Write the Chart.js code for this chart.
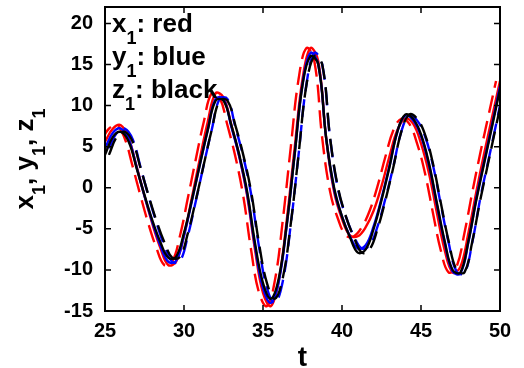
<!DOCTYPE html>
<html>
<head>
<meta charset="utf-8">
<script src="https://cdn.jsdelivr.net/npm/chart.js@4.4.1/dist/chart.umd.min.js"></script>
<style>
  html, body { margin: 0; padding: 0; background: #fff; overflow: hidden; }
  #wrap { width: 524px; height: 368px; }
</style>
</head>
<body>
<div id="wrap"><canvas id="chart_xyz"></canvas></div>
<script>
// time samples
const tValues = [25, 25.5, 26, 26.5, 27, 27.5, 28, 28.5, 29, 29.5,
  30, 30.5, 31, 31.5, 32, 32.5, 33, 33.5, 34, 34.5,
  35, 35.5, 36, 36.5, 37, 37.5, 38, 38.5, 39, 39.5,
  40, 40.5, 41, 41.5, 42, 42.5, 43, 43.5, 44, 44.5,
  45, 45.5, 46, 46.5, 47, 47.5, 48, 48.5, 49, 49.5, 50];

// x1 (red)
const x1Values = [5.6, 7.2, 7.6, 6.0, 2.6, -1.0, -4.4, -7.3, -9.4, -9.0,
  -5.8, -1.2, 3.5, 8.0, 11.5, 11.0, 7.6, 3.8, -1.0, -7.6,
  -12.8, -14.4, -11.3, -4.0, 4.8, 13.2, 17.0, 15.4, 6.0, -0.5,
  -3.8, -5.8, -5.9, -4.8, -2.8, 0.2, 3.8, 7.0, 8.4, 7.8,
  5.4, 1.8, -3.0, -7.6, -10.3, -9.6, -5.5, -0.5, 4.2, 8.6, 13.0];

// y1 (blue)
const y1Values = [4.8, 6.7, 7.2, 5.9, 2.5, -1.0, -4.2, -7.0, -9.0, -8.9,
  -5.8, -1.6, 2.8, 7.0, 10.8, 10.8, 7.4, 3.8, -0.8, -7.2,
  -12.2, -14.0, -11.4, -4.6, 4.0, 12.6, 16.4, 15.0, 6.0, -0.2,
  -3.5, -5.9, -7.4, -7.0, -4.7, -1.3, 2.6, 6.8, 8.8, 8.2,
  6.3, 2.8, -2.0, -6.7, -10.2, -10.4, -6.6, -1.3, 3.2, 7.7, 12.4];

// z1 (black)
const z1Values = [4.0, 6.2, 6.8, 5.6, 2.4, -0.9, -4.0, -6.6, -8.5, -8.4,
  -5.5, -1.5, 2.8, 7.0, 10.6, 10.6, 7.6, 4.0, -0.5, -6.8,
  -11.6, -13.5, -11.0, -4.5, 4.0, 12.5, 16.0, 15.0, 6.0, 0.0,
  -3.5, -6.0, -7.9, -7.5, -5.0, -1.5, 2.5, 6.8, 8.9, 8.4,
  6.5, 3.0, -1.8, -6.5, -10.0, -10.3, -6.5, -1.5, 3.0, 7.5, 12.0];

// time shift of the dashed (second) copies
const lagRed = -0.25;
const lagBlue = 0.25;
const lagBlack = 0.25;

const xTicks = [25, 30, 35, 40, 45, 50];
const yTicks = [-15, -10, -5, 0, 5, 10, 15, 20];

const legendRows = [["x", "1", ": red"], ["y", "1", ": blue"], ["z", "1", ": black"]];
const yTitleParts = [["x", "1", ", "], ["y", "1", ", "], ["z", "1", ""]];
const xTitle = "t";

const FONT = "'Liberation Sans', Arial, Helvetica, sans-serif";

function pts(vals, lag) {
  return vals.map((v, i) => ({ x: tValues[i] + lag, y: v }));
}

function lineSet(vals, color, lag, dashed, order) {
  return {
    data: pts(vals, lag),
    borderColor: color,
    borderWidth: 2.4,
    borderDash: dashed ? [18, 8] : [],
    pointRadius: 0,
    tension: 0.4,
    fill: false,
    order: order,
  };
}

// draw main letter + subscript + rest, returns end x
function drawSubText(ctx, parts, x, y, big, small) {
  let cx = x;
  parts.forEach((p) => {
    ctx.font = "bold " + big + "px " + FONT;
    ctx.fillText(p[0], cx, y);
    cx += ctx.measureText(p[0]).width;
    ctx.font = "bold " + small + "px " + FONT;
    ctx.fillText(p[1], cx, y + 12);
    cx += ctx.measureText(p[1]).width;
    ctx.font = "bold " + big + "px " + FONT;
    ctx.fillText(p[2], cx, y);
    cx += ctx.measureText(p[2]).width;
  });
  return cx;
}

function measureSub(ctx, parts, big, small) {
  let w = 0;
  parts.forEach((p) => {
    ctx.font = "bold " + big + "px " + FONT;
    w += ctx.measureText(p[0]).width + ctx.measureText(p[2]).width;
    ctx.font = "bold " + small + "px " + FONT;
    w += ctx.measureText(p[1]).width;
  });
  return w;
}

const framePlugin = {
  id: "framePlugin",
  afterDatasetsDraw(chart) {
    const ctx = chart.ctx;
    const a = chart.chartArea;
    const xs = chart.scales.x;
    const ys = chart.scales.y;
    ctx.save();
    ctx.strokeStyle = "#000";
    ctx.lineWidth = 2;
    ctx.strokeRect(a.left, a.top, a.right - a.left, a.bottom - a.top);
    // inward ticks on all sides
    ctx.lineWidth = 1.5;
    ctx.beginPath();
    xTicks.forEach((t) => {
      const px = xs.getPixelForValue(t);
      ctx.moveTo(px, a.bottom); ctx.lineTo(px, a.bottom - 6);
      ctx.moveTo(px, a.top); ctx.lineTo(px, a.top + 6);
    });
    yTicks.forEach((t) => {
      const py = ys.getPixelForValue(t);
      ctx.moveTo(a.left, py); ctx.lineTo(a.left + 6, py);
      ctx.moveTo(a.right, py); ctx.lineTo(a.right - 6, py);
    });
    ctx.stroke();

    // legend text inside the plot
    ctx.fillStyle = "#000";
    ctx.textBaseline = "alphabetic";
    ctx.textAlign = "left";
    legendRows.forEach((row, i) => {
      drawSubText(ctx, [row], 112, 32 + i * 33, 26, 18);
    });

    // y title, rotated
    ctx.save();
    ctx.translate(33, (a.top + a.bottom) / 2);
    ctx.rotate(-Math.PI / 2);
    const w = measureSub(ctx, yTitleParts, 26, 18);
    drawSubText(ctx, yTitleParts, -w / 2, 0, 26, 18);
    ctx.restore();

    // x title
    ctx.font = "bold 28px " + FONT;
    ctx.textAlign = "center";
    ctx.fillText(xTitle, (a.left + a.right) / 2, 366);
    ctx.restore();
  },
};

const ctxXYZ = document.getElementById("chart_xyz").getContext("2d");

const myChartXYZ = new Chart(ctxXYZ, {
  type: "line",
  data: {
    datasets: [
      lineSet(z1Values, "#000000", 0, false, 0),
      lineSet(z1Values, "#000000", lagBlack, true, 1),
      lineSet(y1Values, "#0000ff", 0, false, 2),
      lineSet(y1Values, "#0000ff", lagBlue, true, 3),
      lineSet(x1Values, "#ff0000", 0, false, 4),
      lineSet(x1Values, "#ff0000", lagRed, true, 5),
    ],
  },
  plugins: [framePlugin],
  options: {
    animation: false,
    responsive: true,
    maintainAspectRatio: false,
    layout: {
      padding: { top: 7, right: 24, left: 0, bottom: 0 },
    },
    plugins: {
      legend: { display: false },
      tooltip: { enabled: false },
    },
    scales: {
      x: {
        type: "linear",
        min: 25,
        max: 50,
        afterBuildTicks: (s) => { s.ticks = xTicks.map((v) => ({ value: v })); },
        afterFit: (s) => {
          s.height = 57;
          s.paddingLeft = 0; s.paddingRight = 0; s.paddingTop = 0; s.paddingBottom = 0;
        },
        grid: { display: false, drawTicks: false },
        border: { display: false },
        ticks: {
          color: "#000",
          padding: 8,
          maxRotation: 0,
          font: { family: FONT, size: 20, weight: "bold" },
        },
      },
      y: {
        type: "linear",
        min: -15,
        max: 22,
        afterBuildTicks: (s) => { s.ticks = yTicks.map((v) => ({ value: v })); },
        afterFit: (s) => {
          s.width = 105;
          s.paddingLeft = 0; s.paddingRight = 0; s.paddingTop = 0; s.paddingBottom = 0;
        },
        grid: { display: false, drawTicks: false },
        border: { display: false },
        ticks: {
          color: "#000",
          padding: 12,
          font: { family: FONT, size: 20, weight: "bold" },
        },
      },
    },
  },
});
</script>
</body>
</html>
